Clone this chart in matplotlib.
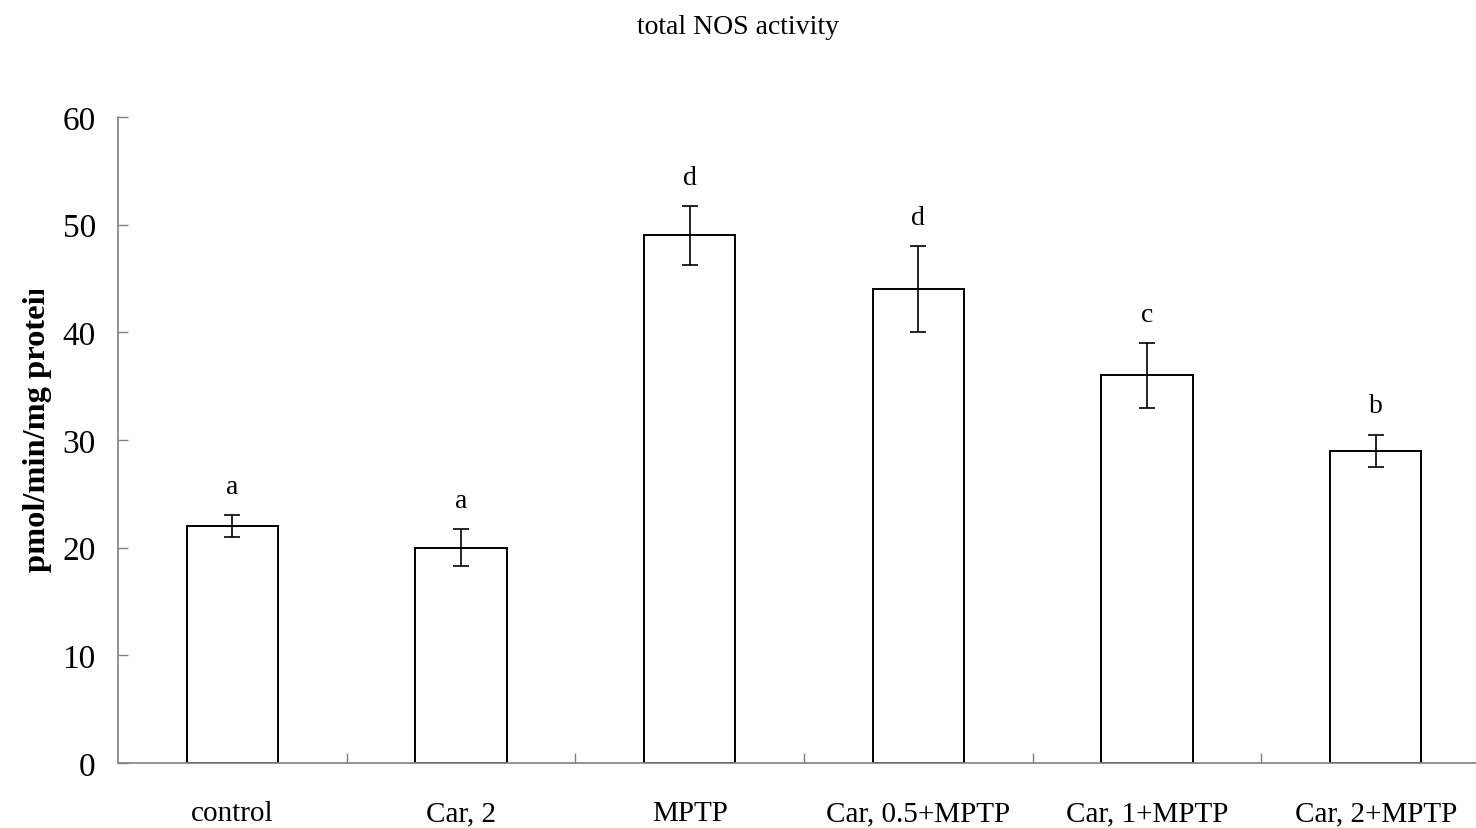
import matplotlib
matplotlib.use("Agg")
import matplotlib.pyplot as plt
from matplotlib.transforms import Bbox
import numpy as np

# data
groups = ["control", "Car, 2", "MPTP", "Car, 0.5+MPTP", "Car, 1+MPTP", "Car, 2+MPTP"]
means = [22.0, 20.0, 49.0, 44.0, 36.0, 29.0]
errors = [1.0, 1.7, 2.7, 4.0, 3.0, 1.5]
letters = ["a", "a", "d", "d", "c", "b"]

plt.rcParams["font.family"] = ["Liberation Serif", "DejaVu Serif"]

W, H = 1476, 829
fig = plt.figure(figsize=(W / 100, H / 100), dpi=100)
# axes runs a little past the right edge, as in the reference
ax = fig.add_axes([118 / W, 65 / H, 1372 / W, 646 / H])

x = np.arange(len(groups))
ax.bar(x, means, width=0.4, color="white", edgecolor="black", linewidth=1.4, zorder=2)
ax.errorbar(x, means, yerr=errors, fmt="none", ecolor="black",
            elinewidth=1.2, capsize=5.5, capthick=1.2, zorder=3)

for xi, m, e, lab in zip(x, means, errors, letters):
    ax.text(xi, m + e + 1.5, lab, ha="center", va="bottom", fontsize=20)

ax.set_xlim(-0.5, len(groups) - 0.5)
ax.set_ylim(0, 60)
ax.set_yticks(range(0, 61, 10))
ax.tick_params(axis="y", direction="in", length=7, width=1, color="#808080",
               labelsize=24, pad=16)

# category labels centred, ticks at the boundaries
ax.set_xticks(x)
ax.set_xticklabels(groups)
ax.set_xticks(np.arange(0.5, len(groups) - 0.5, 1), minor=True)
ax.tick_params(axis="x", which="major", length=0, labelsize=21, pad=27)
ax.tick_params(axis="x", which="minor", direction="in", length=7, width=1,
               color="#808080")

for side in ["top", "right"]:
    ax.spines[side].set_visible(False)
for side in ["left", "bottom"]:
    ax.spines[side].set_color("#808080")
    ax.spines[side].set_linewidth(1.2)

# y label, cut off at the top like in the original figure
yl = fig.text(37 / W, 1 - 572 / H, "pmol/min/mg protein", rotation=90,
              rotation_mode="anchor", ha="left", va="center",
              fontsize=23.4, fontweight="bold")
yl.set_clip_box(Bbox.from_extents(0, 0, 80, H - 291))
yl.set_clip_on(True)

fig.text(0.5, 1 - 27 / H, "total NOS activity", ha="center", va="center",
         fontsize=20)

fig.savefig("out.png", dpi=100)
